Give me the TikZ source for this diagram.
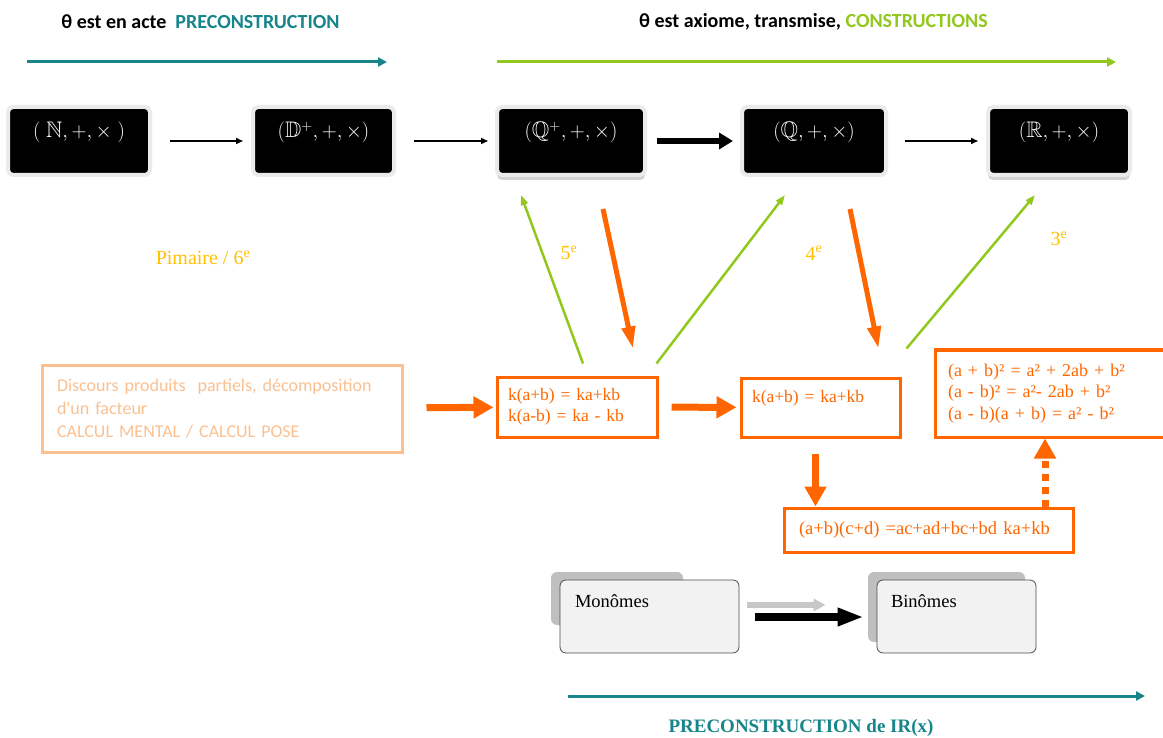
\documentclass[tikz,border=0pt]{standalone}
\usepackage{amsmath, amssymb}
\usepackage{fontspec}
\setmainfont{Liberation Serif}
\newfontfamily\carlito{Carlito}
\usetikzlibrary{positioning, arrows.meta, shadows}
\definecolor{tealx}{RGB}{23,133,138}
\definecolor{greenx}{RGB}{146,200,30}
\definecolor{orangex}{RGB}{255,102,0}
\definecolor{peach}{RGB}{250,192,144}
\definecolor{goldx}{RGB}{255,192,0}

\begin{document}
\begin{tikzpicture}[x=1pt, y=-1pt,
        setbox/.style={fill=black, draw=black!8, line width=4pt, rounded corners=5pt,
            text=white, font=\fontsize{22.5}{24}\selectfont, inner ysep=0pt,
            text height=31pt, text depth=37pt, minimum width=#1},
        setshade/.style={drop shadow={shadow xshift=0pt, shadow yshift=-5pt, opacity=0.35}},
        obox/.style={draw=orangex, line width=3pt, text=orangex, align=left,
            font=\fontsize{17.5}{21}\selectfont, inner xsep=11pt},
        polybox/.style={draw=black!70, fill=black!5, line width=0.8pt, rounded corners=6pt,
            font=\fontsize{18.5}{20}\selectfont, align=left, inner ysep=0pt,
            text height=27pt, text depth=46pt, minimum height=73},
        head/.style={font=\carlito\bfseries\fontsize{20}{22}\selectfont},
        grade/.style={text=goldx, font=\fontsize{20}{22}\selectfont},
        thinarr/.style={line width=1.5pt, -{Triangle[length=7pt,width=6pt]}},
        thickarr/.style={line width=6pt, -{Triangle[length=14pt,width=16pt]}},
        greenarr/.style={draw=greenx, line width=2.5pt, -{Triangle[length=10pt,width=7pt]}},
        orarr/.style={draw=orangex, line width=7pt, -{Triangle[length=20pt,width=21pt]}},
        ordiag/.style={draw=orangex, line width=5pt, -{Triangle[length=22pt,width=13pt]}},
        timeline/.style={line width=3pt, -{Triangle[length=9pt,width=9pt]}}
    ]
    \clip (0,0) rectangle (1163,738);

    % headings and time lines
    \node[head] (pre) at (200.5,22) {θ est en acte~~\textcolor{tealx}{PRECONSTRUCTION}};
    \node[head] (cons) at (813.5,22) {θ est axiome, transmise, \textcolor{greenx}{CONSTRUCTIONS}};
    \coordinate (preA) at (27,62);
    \coordinate (preB) at (387,62);
    \coordinate (consA) at (497,62);
    \coordinate (consB) at (1116,62);
    \draw[timeline, tealx] (preA) -- (preB);
    \draw[timeline, greenx] (consA) -- (consB);

    % number sets
    \node[setbox=142] (N) at (79,141) {$(\;\mathbb{N}, +, \times\;)$};
    \node[setbox=141] (D) at (323.5,141) {$(\mathbb{D}^{+}, +, \times)$};
    \node[setbox=148, setshade] (Qp) at (571,141) {$(\mathbb{Q}^{+}, +, \times)$};
    \node[setbox=144] (Q) at (814,141) {$(\mathbb{Q}, +, \times)$};
    \node[setbox=142, setshade] (R) at (1059,141) {$(\mathbb{R}, +, \times)$};
    \draw[thinarr, shorten <=18pt, shorten >=8pt] (N) -- (D);
    \draw[thinarr, shorten <=18pt, shorten >=7pt] (D) -- (Qp);
    \draw[thickarr, shorten <=10pt, shorten >=7pt] (Qp) -- (Q);
    \draw[thinarr, shorten <=17pt, shorten >=8pt] (Q) -- (R);

    % levels
    \node[grade] (prim) at (203,258) {Pimaire / 6\textsuperscript{e}};
    \node[grade] (cinq) at (569,253) {5\textsuperscript{e}};
    \node[grade] (quat) at (814,253) {4\textsuperscript{e}};
    \node[grade] (trois) at (1059,239) {3\textsuperscript{e}};

    % formulas
    \node[draw=peach, line width=3pt, text=peach, align=left, inner xsep=15pt,
        font=\carlito\fontsize{18}{23}\selectfont, text width=330, minimum height=87]
        (disc) at (222,408.5) {Discours produits~ partiels, décomposition\\d'un facteur\\CALCUL MENTAL / CALCUL POSE};
    \node[obox, text width=138, minimum height=60] (k1) at (577,407)
        {k(a+b) = ka+kb\\k(a-b) = ka - kb};
    \node[obox, text width=137, inner ysep=0pt, text height=24.4pt, text depth=34.6pt] (k2) at (820.5,407.5)
        {k(a+b) = ka+kb};
    \node[obox, text width=259, inner xsep=15pt, minimum height=44, font=\fontsize{18.5}{21}\selectfont]
        (abcd) at (928.5,530) {(a+b)(c+d) =ac+ad+bc+bd ka+kb};
    \node[obox, text width=214, inner xsep=13pt, minimum height=87,
        font=\fontsize{18}{21.5}\selectfont] (ident) at (1055,393.5)
        {(a + b)² = a² + 2ab + b²\\(a - b)² = a²- 2ab + b²\\(a - b)(a + b) = a² - b²};
    \draw[orarr, shorten <=23pt, shorten >=2pt] (disc) -- (k1);
    \draw[orarr, shorten <=13pt, shorten >=3pt] (k1) -- (k2);
    \draw[orarr, shorten <=15pt] ([xshift=-5pt]k2.south) -- ([xshift=-5pt]k2.south |- abcd.north);
    \draw[orarr, dash pattern=on 7pt off 6pt] ([xshift=-10pt]ident.south |- abcd.north) -- ([xshift=-10pt]ident.south);

    % up and down between sets and formulas
    \draw[greenarr] ([xshift=6pt, yshift=12pt]k1.north) -- ([xshift=-50pt, yshift=-18pt]Qp.south);
    \draw[ordiag] ([xshift=32pt, yshift=-32pt]Qp.south) -- ([xshift=56pt, yshift=27pt]k1.north);
    \draw[greenarr] ([xshift=-2pt, yshift=12pt]k1.north east) -- ([xshift=-29pt, yshift=-18pt]Q.south);
    \draw[ordiag] ([xshift=36pt, yshift=-32pt]Q.south) -- ([xshift=58pt, yshift=28pt]k2.north);
    \draw[greenarr] ([xshift=5pt, yshift=28pt]k2.north east) -- ([xshift=-24pt, yshift=-18pt]R.south);

    % polynomials
    \fill[black!25, rounded corners=6pt] (551,572) rectangle (683,625);
    \fill[black!25, rounded corners=6pt] (868,572) rectangle (1025,642);
    \node[polybox, text width=149, inner xsep=15pt] (mono) at (649.5,616.5) {Monômes};
    \node[polybox, text width=131, inner xsep=14pt] (bino) at (956.5,616.5) {Binômes};
    \draw[black!22, line width=6pt, -{Triangle[length=12pt,width=12pt]}, shorten <=8pt, shorten >=51pt]
        ([yshift=11.5pt]mono.east) -- ([yshift=11.5pt]bino.west);
    \draw[line width=8pt, -{Triangle[length=26pt,width=17pt]}, shorten <=16pt, shorten >=13pt]
        ([yshift=-0.5pt]mono.east) -- ([yshift=-0.5pt]bino.west);

    \coordinate (polyA) at (568,696);
    \coordinate (polyB) at (1145,696);
    \draw[timeline, tealx] (polyA) -- (polyB);
    \node[text=tealx, font=\bfseries\fontsize{19}{21}\selectfont] (polyT) at (801,728)
        {PRECONSTRUCTION de IR(x)};
\end{tikzpicture}
\end{document}
